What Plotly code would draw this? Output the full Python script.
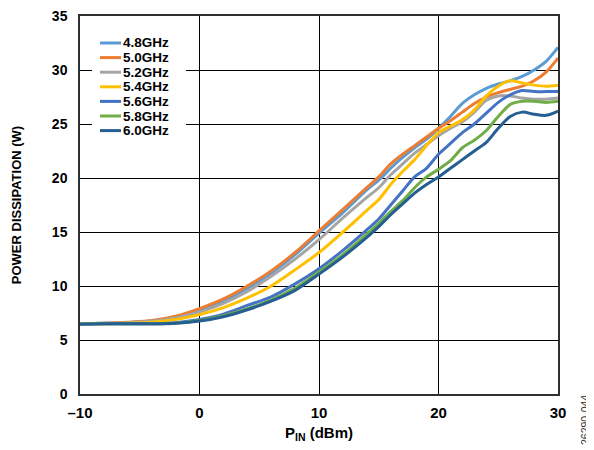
import plotly.graph_objects as go

p_in = [-10, -8, -6, -4, -2, 0, 2, 4, 6, 8, 10, 12, 14, 15, 16, 17, 18, 19, 20,
        21, 22, 23, 24, 25, 26, 27, 28, 29, 30]

f48 = [6.5, 6.55, 6.6, 6.75, 7.1, 7.7, 8.6, 9.8, 11.2, 12.9, 14.9, 16.8, 18.9, 19.8,
       20.9, 21.9, 22.8, 23.6, 24.6, 25.7, 26.9, 27.7, 28.3, 28.7, 29.0, 29.4, 30.0, 30.8, 32.1]
f50 = [6.5, 6.55, 6.65, 6.8, 7.2, 7.9, 8.8, 10.0, 11.4, 13.1, 15.1, 17.1, 19.1, 20.1,
       21.3, 22.2, 23.0, 23.8, 24.6, 25.3, 26.1, 26.9, 27.5, 27.9, 28.2, 28.5, 29.0, 29.8, 31.1]
f52 = [6.5, 6.55, 6.6, 6.75, 7.05, 7.6, 8.4, 9.5, 10.9, 12.5, 14.3, 16.3, 18.2, 19.1,
       20.3, 21.3, 22.3, 23.1, 23.9, 24.6, 25.2, 26.1, 27.2, 27.6, 27.6, 27.4, 27.3, 27.3, 27.4]
f54 = [6.5, 6.5, 6.55, 6.65, 6.9, 7.35, 8.0, 8.9, 10.0, 11.5, 13.1, 15.0, 17.0, 18.0,
       19.4, 20.6, 21.7, 23.0, 24.2, 24.8, 25.4, 26.3, 27.6, 28.5, 29.0, 28.8, 28.6, 28.5, 28.6]
f56 = [6.5, 6.5, 6.5, 6.5, 6.6, 6.9, 7.4, 8.2, 9.0, 10.2, 11.6, 13.3, 15.2, 16.2,
       17.5, 18.8, 20.1, 20.9, 22.2, 23.2, 24.2, 25.0, 26.0, 27.0, 27.7, 28.1, 28.0, 28.0, 28.0]
f58 = [6.5, 6.5, 6.5, 6.5, 6.55, 6.8, 7.25, 7.9, 8.7, 9.8, 11.3, 12.9, 14.8, 15.8,
       16.9, 17.9, 19.1, 20.1, 20.8, 21.6, 22.8, 23.5, 24.4, 25.7, 26.8, 27.1, 27.1, 27.0, 27.1]
f60 = [6.45, 6.5, 6.5, 6.5, 6.55, 6.75, 7.15, 7.8, 8.6, 9.6, 11.1, 12.7, 14.5, 15.5,
       16.6, 17.6, 18.6, 19.4, 20.1, 20.9, 21.7, 22.5, 23.3, 24.6, 25.7, 26.1, 25.9, 25.8, 26.2]

series_names = ["4.8GHz", "5.0GHz", "5.2GHz", "5.4GHz", "5.6GHz", "5.8GHz", "6.0GHz"]
series_vals = [f48, f50, f52, f54, f56, f58, f60]
colors = ["#5B9BD5", "#ED7D31", "#A5A5A5", "#FFC000", "#4472C4", "#70AD47", "#255E91"]

x_ticks = [-10, 0, 10, 20, 30]
x_ticktext = ["\u201310", "0", "10", "20", "30"]
y_ticks = [0, 5, 10, 15, 20, 25, 30, 35]

FAM = "Liberation Sans, Arial, sans-serif"

fig = go.Figure()
for name, vals, c in zip(series_names, series_vals, colors):
    fig.add_trace(go.Scatter(x=p_in, y=vals, name=name, mode="lines", showlegend=False,
                             line=dict(color=c, width=3, shape="spline", smoothing=0.8)))

# page body has an 8px margin, so the figure is sized/offset accordingly
PLOT_TOP, PLOT_BOT, PLOT_L, PLOT_R = 16, 394, 80, 558
fig.update_layout(
    width=586, height=442,
    margin=dict(l=PLOT_L - 8, r=586 - (PLOT_R - 8), t=PLOT_TOP - 8, b=442 - (PLOT_BOT - 8)),
    paper_bgcolor="white", plot_bgcolor="white",
    font=dict(family=FAM, size=13, color="black"),
    showlegend=False,
    xaxis=dict(range=[-10, 30], tickvals=x_ticks, ticktext=x_ticktext, automargin=False,
               showgrid=True, gridcolor="black", gridwidth=1,
               showline=True, linecolor="#303030", linewidth=1.5, mirror=True,
               zeroline=False, ticks="", ticklabelstandoff=4, ticklabeloverflow="allow",
               tickfont=dict(family=FAM, size=15, weight="bold", color="black"),
               title=dict(text="P<sub>IN</sub> (dBm)", standoff=8,
                          font=dict(family=FAM, size=15, weight="bold", color="black"))),
    yaxis=dict(range=[0, 35], tickvals=y_ticks, automargin=False,
               showgrid=True, gridcolor="black", gridwidth=1,
               showline=True, linecolor="#303030", linewidth=1.5, mirror=True,
               zeroline=False, ticks="", ticklabelstandoff=8, ticklabeloverflow="allow",
               tickfont=dict(family=FAM, size=14, weight="bold", color="black"),
               title=dict(text="POWER DISSIPATION (W)", standoff=27,
                          font=dict(family=FAM, size=13, weight="bold", color="black"))),
)

def px_x(px):
    return (px - PLOT_L) / float(PLOT_R - PLOT_L)

def px_y(py):
    return (PLOT_BOT - py) / float(PLOT_BOT - PLOT_TOP)

fig.add_shape(type="rect", xref="paper", yref="paper", layer="above",
              x0=px_x(92), x1=px_x(186), y0=px_y(142), y1=px_y(33),
              fillcolor="white", line=dict(width=0))
row0, step = 43.0, 14.6
for i, (name, c) in enumerate(zip(series_names, colors)):
    yy = px_y(row0 + i * step)
    fig.add_shape(type="line", xref="paper", yref="paper", layer="above",
                  x0=px_x(100), x1=px_x(121), y0=yy, y1=yy,
                  line=dict(color=c, width=3))
    fig.add_annotation(text=name, xref="paper", yref="paper", x=px_x(122), y=yy,
                       xanchor="left", yanchor="middle", showarrow=False, borderpad=0,
                       font=dict(family=FAM, size=13.5, weight="bold", color="black"))

fig.add_annotation(text="26290-044", xref="paper", yref="paper", x=px_x(585), y=px_y(420),
                   xanchor="center", yanchor="middle", textangle=-90, showarrow=False,
                   font=dict(family=FAM, size=10.5, color="#333333"))

fig.write_html("out.html")
